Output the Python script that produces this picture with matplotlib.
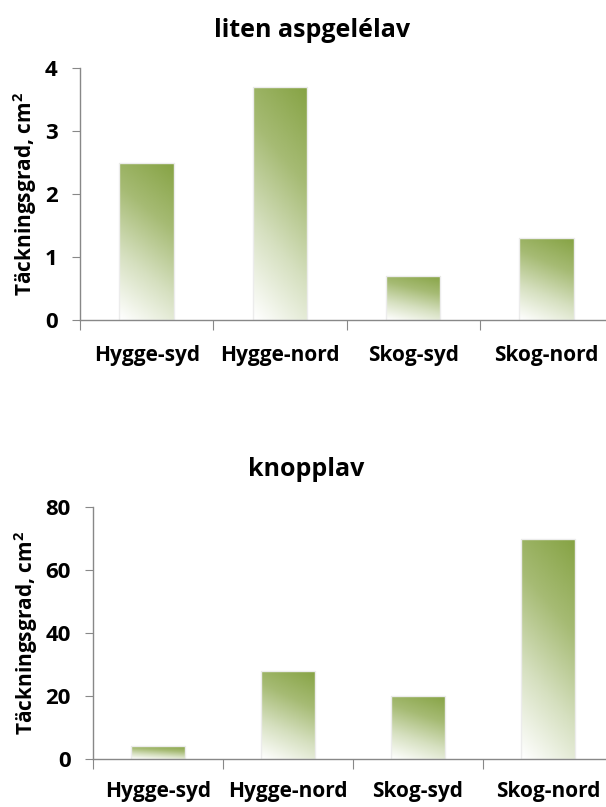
import numpy as np
import matplotlib
matplotlib.use("Agg")
import matplotlib.pyplot as plt
from matplotlib.colors import LinearSegmentedColormap

categories = ["Hygge-syd", "Hygge-nord", "Skog-syd", "Skog-nord"]
aspgel_values = [2.5, 3.7, 0.7, 1.3]
knopp_values = [4, 28, 20, 70]
aspgel_ticks = [0, 1, 2, 3, 4]
knopp_ticks = [0, 20, 40, 60, 80]
titles = ["liten aspgelélav", "knopplav"]
ylabel = "Täckningsgrad, cm$^2$"

plt.rcParams['font.family'] = ['Open Sans', 'DejaVu Sans']
plt.rcParams['mathtext.fontset'] = 'custom'
plt.rcParams['mathtext.rm'] = 'Open Sans:bold'
plt.rcParams['mathtext.it'] = 'Open Sans:bold'
plt.rcParams['mathtext.bf'] = 'Open Sans:bold'

cmap = LinearSegmentedColormap.from_list("g", ["#ffffff", "#d6e0c0", "#a6bb74", "#86a344"])

fig = plt.figure(figsize=(6.06, 8.07), dpi=100)

def draw(ax, values, ticks, title, ymax, title_x, xpad):
    n = len(categories)
    x = np.arange(n)
    width = 0.41
    bars = ax.bar(x, values, width=width, color="none", edgecolor="#ececec", linewidth=1.0, zorder=2)
    ny, nx = 100, 40
    yy, xx = np.mgrid[0:1:ny*1j, 0:1:nx*1j]
    grad = 0.78 * yy + 0.22 * xx
    for b in bars:
        x0, y0 = b.get_x(), b.get_y()
        w, h = b.get_width(), b.get_height()
        im = ax.imshow(grad, extent=(x0, x0 + w, y0, y0 + h), origin="lower",
                       cmap=cmap, vmin=0, vmax=1, aspect="auto", zorder=1,
                       interpolation="bilinear")
        im.set_clip_path(b)
    ax.set_xlim(-0.5, n - 0.5)
    ax.set_ylim(0, ymax)
    ax.set_yticks(ticks)
    ax.set_yticklabels([str(t) for t in ticks], fontsize=16, fontweight="bold")
    ax.set_xticks(np.arange(n + 1) - 0.5)
    ax.set_xticklabels([])
    ax.set_xticks(x, minor=True)
    ax.set_xticklabels(categories, minor=True, fontsize=15, fontweight="bold")
    ax.tick_params(axis="x", which="minor", length=0, pad=xpad)
    ax.tick_params(axis="x", which="major", length=7, color="#888888", direction="out")
    ax.tick_params(axis="y", length=6, color="#888888", pad=10)
    for s in ["top", "right"]:
        ax.spines[s].set_visible(False)
    for s in ["left", "bottom"]:
        ax.spines[s].set_color("#888888")
        ax.spines[s].set_linewidth(1.0)
    ax.set_ylabel(ylabel, fontsize=15, fontweight="bold", labelpad=4)
    ax.set_title(title, fontsize=18, fontweight="bold", pad=22, x=title_x)

ax1 = fig.add_axes([80/606, 1 - 320/807, 533/606, 252/807])
draw(ax1, aspgel_values, aspgel_ticks, titles[0], 4, 0.435, 18)
ax2 = fig.add_axes([93/606, 1 - 759/807, 520/606, 252/807])
draw(ax2, knopp_values, knopp_ticks, titles[1], 80, 0.41, 16)

fig.savefig("out.png", dpi=100)
